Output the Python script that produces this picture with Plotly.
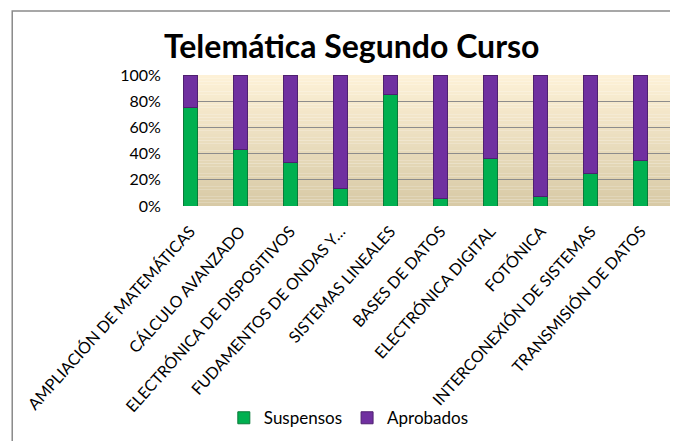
import plotly.graph_objects as go

categories = [
    "AMPLIACIÓN DE MATEMÁTICAS",
    "CÁLCULO AVANZADO",
    "ELECTRÓNICA DE DISPOSITIVOS",
    "FUDAMENTOS DE ONDAS Y…",
    "SISTEMAS LINEALES",
    "BASES DE DATOS",
    "ELECTRÓNICA DIGITAL",
    "FOTÓNICA",
    "INTERCONEXIÓN DE SISTEMAS",
    "TRANSMISIÓN DE DATOS",
]
suspensos = [75, 43, 33, 13, 85, 6, 36, 7, 25, 35]
aprobados = [25, 57, 67, 87, 15, 94, 64, 93, 75, 65]
tick_vals = [0, 0.2, 0.4, 0.6, 0.8, 1.0]
tick_text = ["0%", "20%", "40%", "60%", "80%", "100%"]

FONT = "Lato, 'Open Sans', sans-serif"

fig = go.Figure()
fig.add_trace(go.Bar(
    x=categories, y=[v / 100 for v in suspensos], name="Suspensos",
    marker=dict(color="#00b050", line=dict(color="#0b7a3a", width=1)),
    width=0.28,
))
fig.add_trace(go.Bar(
    x=categories, y=[v / 100 for v in aprobados], name="Aprobados",
    marker=dict(color="#7030a0", line=dict(color="#4f2070", width=1)),
    width=0.28,
))

# gradient background of plot area
shapes = []
N = 40
top = (253, 241, 215)
bot = (216, 202, 166)
for i in range(N):
    t = i / (N - 1)
    c = tuple(int(round(bot[k] + (top[k] - bot[k]) * t)) for k in range(3))
    shapes.append(dict(type="rect", xref="paper", yref="paper",
                       x0=0, x1=1, y0=i / N, y1=(i + 1) / N,
                       fillcolor="rgb(%d,%d,%d)" % c, line=dict(width=0),
                       layer="below"))
# outer chart frame
shapes.append(dict(type="rect", xref="paper", yref="paper",
                   x0=-0.345, x1=1.05, y0=-1.95, y1=1.489,
                   line=dict(color="#8a8a8a", width=1.5),
                   fillcolor="rgba(0,0,0,0)", layer="above"))

fig.update_layout(
    width=670, height=433,
    barmode="stack",
    margin=dict(l=175, r=0, t=67, b=235, autoexpand=False),
    paper_bgcolor="white",
    plot_bgcolor="rgba(0,0,0,0)",
    font=dict(family=FONT, color="#000000"),
    title=dict(text="<b>Telemática Segundo Curso</b>", x=0.513, xref="container",
               xanchor="center", y=0.91, yref="container", yanchor="middle",
               font=dict(size=32, family=FONT, color="#000")),
    xaxis=dict(range=[-0.14, 9.74], tickangle=-48, showgrid=False,
               tickfont=dict(size=16, family=FONT), showline=False,
               ticks="", fixedrange=True, automargin=False,
               ticklabelstandoff=12),
    yaxis=dict(range=[0, 1], tickvals=tick_vals, ticktext=tick_text,
               showgrid=True, gridcolor="#8c8c8c", gridwidth=1,
               zeroline=False, tickfont=dict(size=16, family=FONT),
               ticks="outside", ticklen=18, tickcolor="rgba(0,0,0,0)",
               automargin=False),
    legend=dict(orientation="h", x=0.335, xanchor="center", y=-1.62,
                yanchor="middle", font=dict(size=17, family=FONT),
                traceorder="normal", itemwidth=30,
                bgcolor="rgba(0,0,0,0)"),
    shapes=shapes,
    showlegend=True,
)

fig.write_html("out.html")
